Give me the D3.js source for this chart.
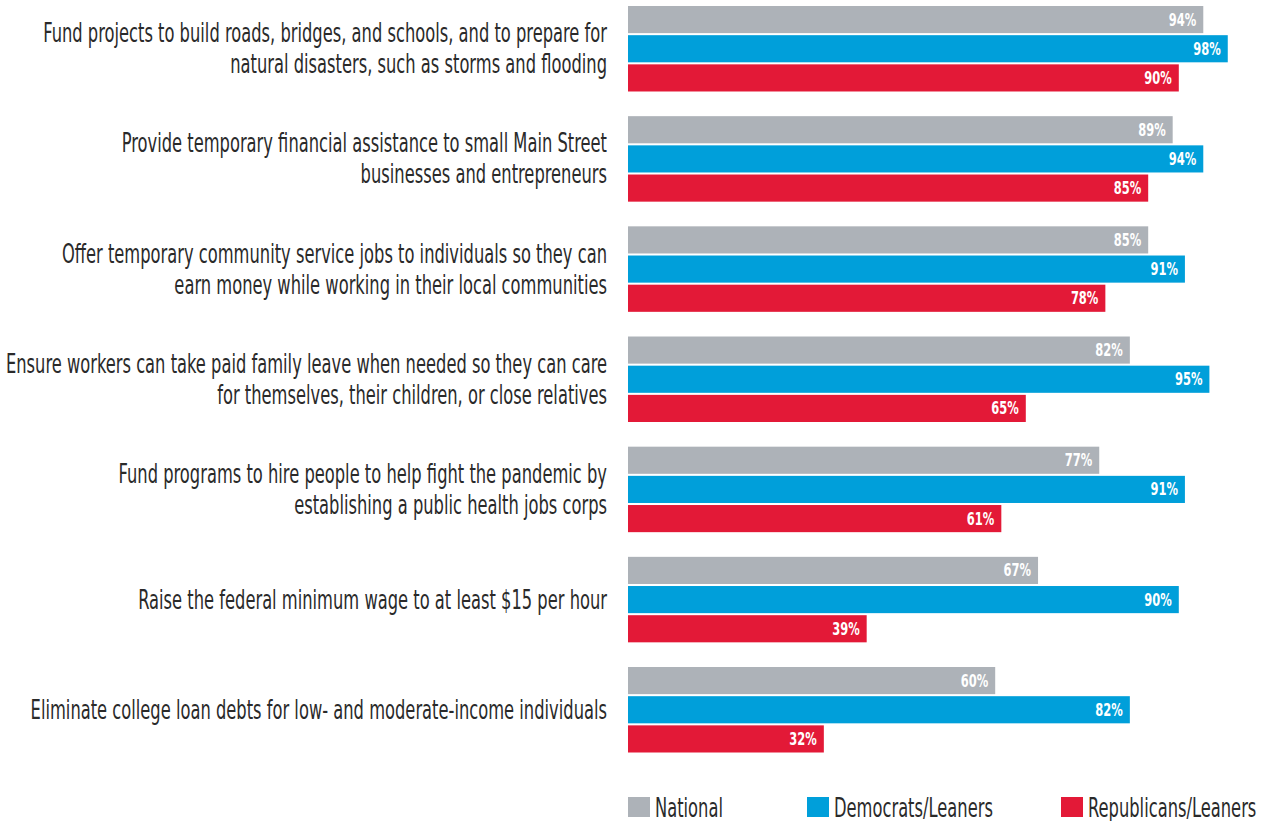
<!DOCTYPE html>
<html>
<head>
<meta charset="utf-8">
<script src="https://cdn.jsdelivr.net/npm/d3@7"></script>
<style>
  html, body { margin: 0; padding: 0; background: #fff; }
  svg { display: block; }
  text { font-family: "Liberation Sans Narrow", "DejaVu Sans Condensed", "Liberation Sans", sans-serif; }
</style>
</head>
<body>
<svg id="chart" width="1271" height="821"></svg>
<script>
// Policy items, each label split into its display lines
const categories = [
  ["Fund projects to build roads, bridges, and schools, and to prepare for", "natural disasters, such as storms and flooding"],
  ["Provide temporary financial assistance to small Main Street", "businesses and entrepreneurs"],
  ["Offer temporary community service jobs to individuals so they can", "earn money while working in their local communities"],
  ["Ensure workers can take paid family leave when needed so they can care", "for themselves, their children, or close relatives"],
  ["Fund programs to hire people to help fight the pandemic by", "establishing a public health jobs corps"],
  ["Raise the federal minimum wage to at least $15 per hour"],
  ["Eliminate college loan debts for low- and moderate-income individuals"]
];
const seriesNames = ["National", "Democrats/Leaners", "Republicans/Leaners"];
const national    = [94, 89, 85, 82, 77, 67, 60];
const democrats   = [98, 94, 91, 95, 91, 90, 82];
const republicans = [90, 85, 78, 65, 61, 39, 32];
const colors = ["#adb2b8", "#009fda", "#e31937"];

const values = [national, democrats, republicans];
const rows = categories.map((lines, i) => ({
  key: i, lines, vals: seriesNames.map((s, j) => ({ series: s, value: values[j][i] }))
}));

const svg = d3.select("#chart");
const labelFont = 26, valueFont = 17;

// Horizontal compression so the sans face reads as a condensed type
function fitFactor(str, size, weight, target) {
  const t = svg.append("text").attr("font-size", size).attr("font-weight", weight).text(str);
  const w = t.node().getComputedTextLength();
  t.remove();
  return target / w;
}
const kLabel = fitFactor(categories[0][0], labelFont, 400, 564);
const kValue = fitFactor("98%", valueFont, 700, 27.5);

const x = d3.scaleLinear().domain([0, 100]).range([628, 1240]);
const y0 = d3.scaleBand().domain(rows.map(r => r.key)).range([6, 752.5]).paddingInner(0.224);
const y1 = d3.scaleBand().domain(seriesNames).range([0, y0.bandwidth()]).paddingInner(0.07);
const color = d3.scaleOrdinal().domain(seriesNames).range(colors);

const groups = svg.append("g").selectAll("g.row").data(rows).join("g")
  .attr("class", "row")
  .attr("transform", d => `translate(0,${y0(d.key)})`);

// Bars
groups.selectAll("rect").data(d => d.vals).join("rect")
  .attr("x", x(0))
  .attr("y", d => y1(d.series))
  .attr("width", d => x(d.value) - x(0))
  .attr("height", y1.bandwidth())
  .attr("fill", d => color(d.series));

// Value labels inside bar ends
groups.selectAll("text.val").data(d => d.vals).join("text")
  .attr("class", "val")
  .attr("transform", d => `translate(${x(d.value) - 7},${y1(d.series) + y1.bandwidth() / 2 + 6}) scale(${kValue},1)`)
  .attr("text-anchor", "end")
  .attr("font-size", valueFont)
  .attr("font-weight", 700)
  .attr("fill", "#fff")
  .text(d => d.value + "%");

// Category labels, right-aligned against the bars
const lineGap = 31;
groups.each(function(d) {
  const g = d3.select(this);
  const mid = y0.bandwidth() / 2;
  const n = d.lines.length;
  d.lines.forEach((line, i) => {
    g.append("text")
      .attr("transform", `translate(607,${mid + 9 + (i - (n - 1) / 2) * lineGap}) scale(${kLabel},1)`)
      .attr("text-anchor", "end")
      .attr("font-size", labelFont)
      .attr("fill", "#2a2a2a")
      .text(line);
  });
});

// Legend
const legendX = [628, 807, 1061];
const legend = svg.append("g").selectAll("g").data(seriesNames).join("g")
  .attr("transform", (d, i) => `translate(${legendX[i]},797)`);
legend.append("rect").attr("width", 22).attr("height", 20).attr("fill", d => color(d));
legend.append("text")
  .attr("transform", `translate(27,19.5) scale(${kLabel},1)`)
  .attr("font-size", labelFont)
  .attr("fill", "#2a2a2a")
  .text(d => d);
</script>
</body>
</html>
